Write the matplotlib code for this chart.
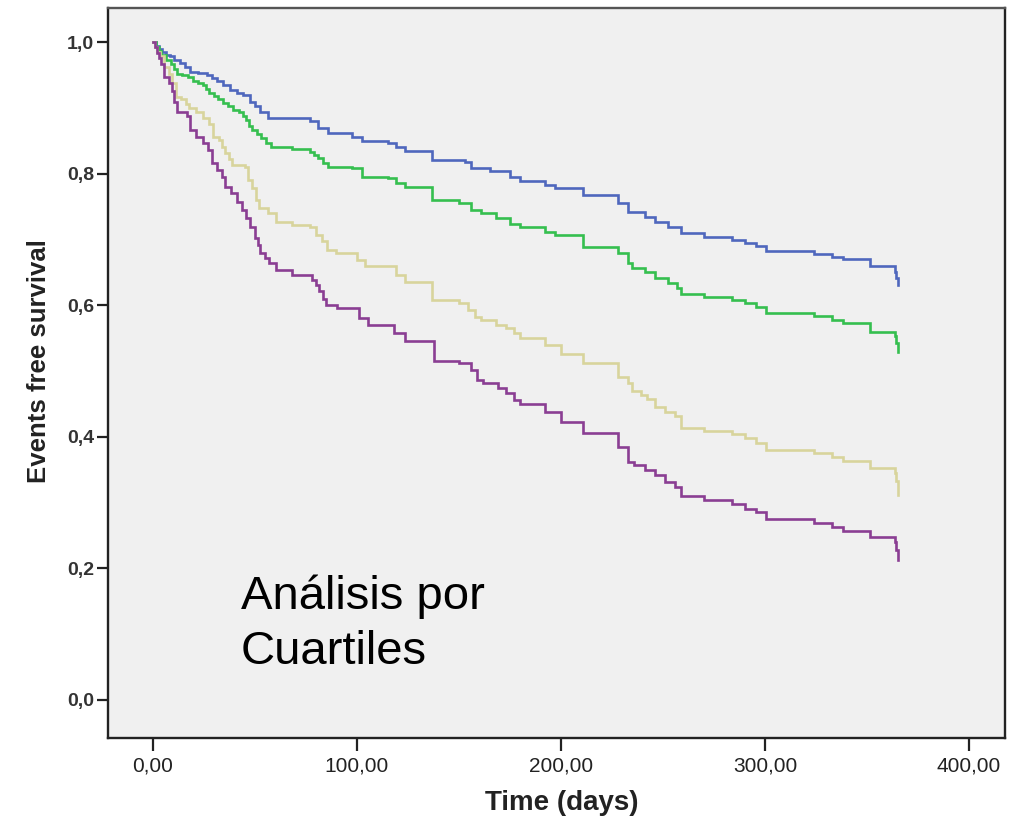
import matplotlib
matplotlib.use("Agg")
import matplotlib.pyplot as plt

# ---- data ----
q1_time = [0, 1.5, 3, 4.5, 6.5, 8.3, 10.5, 13.2, 15.5, 18.1, 22, 26.5, 29, 31.4, 34.5, 37.7, 41, 44.1,
           47.5, 50, 52.5, 56.4, 77, 81, 86, 97.5, 102.5,
           115, 119, 123.5, 137, 153, 156, 165, 175, 180, 192, 197, 211, 228, 233, 241, 246,
           252.5, 259, 270, 284, 290, 295.5, 300.5, 324, 333, 338, 351.5, 363.5, 364.3, 365]
q1_surv = [1.0, 0.994, 0.989, 0.985, 0.981, 0.978, 0.972, 0.968, 0.962, 0.955, 0.953, 0.950, 0.945,
           0.940, 0.934, 0.927, 0.923, 0.919, 0.909, 0.902, 0.894, 0.884, 0.880, 0.869,
           0.862, 0.856, 0.849, 0.846, 0.841, 0.835, 0.821, 0.818, 0.808, 0.804, 0.795, 0.789, 0.783,
           0.778, 0.767, 0.755, 0.742, 0.734, 0.727, 0.719, 0.709, 0.703, 0.699, 0.695, 0.690, 0.683,
           0.678, 0.674, 0.670, 0.659, 0.651, 0.642, 0.631]

q2_time = [0, 1.5, 2.8, 4, 6.5, 9, 10.5, 12, 14.5, 17, 19.5, 22, 24.5, 26, 27.5, 30, 32, 34.5, 37, 39.5,
           42, 44, 45.5, 47, 48.5, 51, 53, 55.5, 58, 68, 77, 79, 81, 83.5, 86, 97.5,
           102.5, 115, 119, 123.5, 137, 150, 156, 161, 168, 175, 180, 192, 197, 211, 228, 233, 235,
           241, 246, 252.5, 257, 259, 270, 284, 290, 295.5, 300.5, 324, 333, 338, 351.5, 363.5, 364.3, 365]
q2_surv = [1.0, 0.993, 0.987, 0.980, 0.973, 0.967, 0.959, 0.952, 0.950, 0.947, 0.940, 0.938, 0.935,
           0.928, 0.922, 0.918, 0.914, 0.908, 0.902, 0.897, 0.893, 0.887, 0.881, 0.873, 0.866, 0.860,
           0.854, 0.847, 0.841, 0.838, 0.833, 0.828, 0.823, 0.816, 0.810, 0.808, 0.795, 0.793, 0.785,
           0.779, 0.760, 0.755, 0.745, 0.740, 0.732, 0.724, 0.719, 0.712, 0.707, 0.689, 0.679, 0.664,
           0.656, 0.651, 0.641, 0.633, 0.626, 0.617, 0.612, 0.608, 0.603, 0.598, 0.588, 0.584, 0.578,
           0.573, 0.560, 0.553, 0.543, 0.529]

q3_time = [0, 1, 2, 3.5, 5.5, 8, 9.5, 11.5, 14, 16, 17.5, 21, 24.5, 27.5, 29.5, 32.5, 34, 35.5, 37.5,
           39, 45, 46.5, 48.5, 50.5, 52, 56.5, 60.5, 68, 77, 80, 83, 85.5, 89.5, 100, 104, 119, 123.5,
           137, 150, 154.5, 158, 161, 168, 173, 177, 180, 192, 200, 211, 228, 233, 235, 239, 242, 246,
           251, 256, 259, 270, 284, 290, 295.5, 300.5, 324, 333, 338, 351.5, 363.5, 364.3, 365]
q3_surv = [1.0, 0.992, 0.985, 0.978, 0.962, 0.952, 0.937, 0.917, 0.914, 0.906, 0.899, 0.894, 0.884,
           0.876, 0.856, 0.851, 0.841, 0.831, 0.822, 0.813, 0.810, 0.790, 0.778, 0.760, 0.747, 0.740,
           0.727, 0.722, 0.719, 0.707, 0.697, 0.684, 0.679, 0.669, 0.659, 0.646, 0.636, 0.608, 0.603,
           0.593, 0.582, 0.578, 0.570, 0.565, 0.557, 0.550, 0.540, 0.526, 0.512, 0.491, 0.481, 0.469,
           0.464, 0.458, 0.446, 0.438, 0.431, 0.414, 0.409, 0.404, 0.398, 0.391, 0.380, 0.375, 0.369,
           0.363, 0.353, 0.345, 0.333, 0.312]

q4_time = [0, 1, 2, 3, 4, 5.5, 8, 9.5, 10.5, 12, 16.5, 18, 21, 24.5, 27, 29, 31.5, 34, 35.5, 38.5, 41,
           43.5, 45.5, 47.5, 50, 51.5, 52.5, 55, 57, 60.5, 68, 78, 80, 81.5, 83.5, 85, 90, 101, 105.5,
           118, 123.5, 138, 150, 156, 159, 162, 169, 173, 177, 180, 192, 200, 211, 228, 233, 236, 241,
           246, 251, 256, 259, 270, 284, 290, 295.5, 300.5, 324, 333, 338, 351.5, 363.5, 364.3, 365]
q4_surv = [1.0, 0.992, 0.983, 0.975, 0.967, 0.947, 0.937, 0.925, 0.909, 0.894, 0.887, 0.866, 0.856,
           0.846, 0.836, 0.816, 0.805, 0.795, 0.780, 0.770, 0.757, 0.745, 0.732, 0.719, 0.702, 0.691,
           0.679, 0.671, 0.664, 0.653, 0.646, 0.638, 0.630, 0.621, 0.610, 0.600, 0.595, 0.580, 0.570,
           0.557, 0.546, 0.515, 0.512, 0.502, 0.487, 0.481, 0.474, 0.466, 0.456, 0.450, 0.438, 0.423,
           0.405, 0.385, 0.362, 0.357, 0.350, 0.342, 0.332, 0.324, 0.310, 0.304, 0.298, 0.291, 0.285,
           0.275, 0.269, 0.263, 0.257, 0.248, 0.240, 0.228, 0.213]

series_colors = ["#4f67bd", "#35bf4f", "#d8d49c", "#8a3e93"]

x_ticks = [0, 100, 200, 300, 400]
x_tick_labels = ["0,00", "100,00", "200,00", "300,00", "400,00"]
y_ticks = [0.0, 0.2, 0.4, 0.6, 0.8, 1.0]
y_tick_labels = ["0,0", "0,2", "0,4", "0,6", "0,8", "1,0"]

# ---- figure ----
plt.rcParams['font.family'] = ['Liberation Sans', 'DejaVu Sans']
fig = plt.figure(figsize=(10.2, 8.18), dpi=100)
ax = fig.add_axes([108 / 1020, 1 - 738 / 818, (1005 - 108) / 1020, (738 - 8) / 818])
ax.set_facecolor("#f0f0f0")

for t, s, c in zip([q1_time, q2_time, q3_time, q4_time],
                   [q1_surv, q2_surv, q3_surv, q4_surv], series_colors):
    ax.plot(t, s, drawstyle="steps-post", color=c, lw=1.9, solid_joinstyle="miter")

ax.set_xlim(-22, 417.6)
ax.set_ylim(-0.0578, 1.0517)

ax.set_xticks(x_ticks)
ax.set_xticklabels(x_tick_labels, fontsize=15)
ax.set_yticks(y_ticks)
ax.set_yticklabels(y_tick_labels, fontsize=14, fontweight="bold")
ax.tick_params(axis="x", length=9, width=1.6, pad=4, colors="#222222")
ax.tick_params(axis="y", length=8, width=1.6, pad=2, colors="#222222")
for tl in ax.get_yticklabels():
    tl.set_color("#333333")

for side in ["left", "right", "bottom", "top"]:
    ax.spines[side].set_linewidth(1.7)
    ax.spines[side].set_color("#222222")
ax.spines["top"].set_color("#555555")

ax.set_xlabel("Time (days)", fontsize=20, fontweight="bold", color="#222222")
ax.xaxis.set_label_coords(0.506, -0.071)
ax.set_ylabel("Events free survival", fontsize=18.5, fontweight="bold", color="#222222")
ax.yaxis.set_label_coords(-0.064, 0.516)

# annotation placed in figure pixel coordinates (origin bottom-left); baseline of last line at y=663 from top
ax.text(241, 818 - 664, "Análisis por\nCuartiles", transform=None, fontsize=34,
        va="baseline", ha="left", color="black", linespacing=1.32)

fig.savefig("out.png", dpi=100, facecolor="white")
